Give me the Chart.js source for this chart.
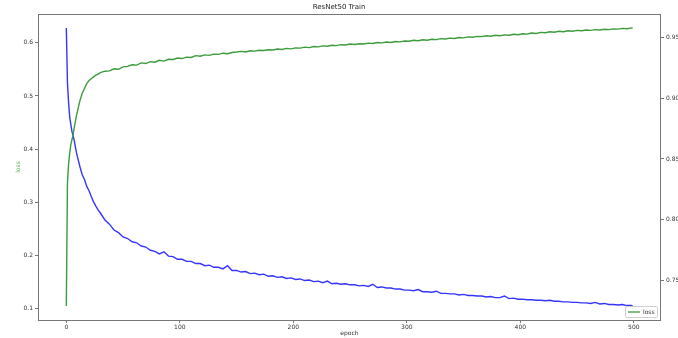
<!DOCTYPE html>
<html>
<head>
<meta charset="utf-8">
<script src="https://cdn.jsdelivr.net/npm/chart.js@4.4.0/dist/chart.umd.min.js"></script>
<style>
    html, body { margin: 0; padding: 0; background: #fff; }
    #wrap { width: 678px; height: 338px; }
</style>
</head>
<body>
<div id="wrap"><canvas id="trainChart" width="678" height="338"></canvas></div>
<script>
// Training curve (denser sampling where it moves fast)
const epochs = [0, 1, 2, 3, 4, 5, 6, 7, 8, 9, 10, 12, 14, 16, 18, 20, 22, 24, 26, 28,
    30, 34, 38, 42, 46, 50, 54, 58, 62, 66, 70, 74, 78, 82, 86, 90, 94, 98,
    102, 106, 110, 114, 118, 122, 126, 130, 134, 138, 142, 146, 150, 154, 158, 162, 166, 170, 174, 178, 182, 186, 190, 194, 198,
    202, 206, 210, 214, 218, 222, 226, 230, 234, 238, 242, 246, 250, 254, 258, 262, 266, 270, 274, 278, 282, 286, 290, 294, 298,
    302, 306, 310, 314, 318, 322, 326, 330, 334, 338, 342, 346, 350, 354, 358, 362, 366, 370, 374, 378, 382, 386, 390, 394, 398,
    402, 406, 410, 414, 418, 422, 426, 430, 434, 438, 442, 446, 450, 454, 458, 462, 466, 470, 474, 478, 482, 486, 490, 494, 498,
    499];

const lossValues = [0.628, 0.525, 0.488, 0.460, 0.446, 0.433, 0.425, 0.416, 0.404, 0.393, 0.384, 0.367, 0.352, 0.343, 0.330, 0.322, 0.311, 0.301, 0.293, 0.286,
    0.280, 0.267, 0.259, 0.248, 0.243, 0.235, 0.232, 0.226, 0.224, 0.218, 0.216, 0.210, 0.208, 0.203, 0.207, 0.199, 0.198, 0.193,
    0.193, 0.189, 0.189, 0.185, 0.185, 0.181, 0.182, 0.178, 0.178, 0.175, 0.181, 0.172, 0.172, 0.169, 0.170, 0.166, 0.167, 0.164, 0.165, 0.161, 0.162, 0.159, 0.160, 0.157, 0.158,
    0.155, 0.156, 0.153, 0.154, 0.151, 0.152, 0.149, 0.152, 0.147, 0.148, 0.146, 0.147, 0.145, 0.145, 0.143, 0.144, 0.142, 0.146, 0.140, 0.141, 0.139, 0.139, 0.137, 0.137, 0.135,
    0.135, 0.134, 0.136, 0.132, 0.132, 0.131, 0.133, 0.129, 0.129, 0.128, 0.128, 0.126, 0.127, 0.125, 0.125, 0.124, 0.124, 0.122, 0.123, 0.121, 0.121, 0.124, 0.119, 0.120, 0.118,
    0.118, 0.117, 0.117, 0.116, 0.116, 0.115, 0.116, 0.114, 0.114, 0.113, 0.113, 0.112, 0.112, 0.111, 0.111, 0.110, 0.112, 0.109, 0.110, 0.108, 0.108, 0.107, 0.108, 0.106, 0.106,
    0.105];

const accValues = [0.729, 0.830, 0.846, 0.855, 0.862, 0.866, 0.870, 0.876, 0.881, 0.886, 0.890, 0.898, 0.904, 0.908, 0.912, 0.9145, 0.9160, 0.9175, 0.9190, 0.9198,
    0.9210, 0.9222, 0.9225, 0.9242, 0.9238, 0.9258, 0.9262, 0.9275, 0.9272, 0.9290, 0.9285, 0.9300, 0.9296, 0.9312, 0.9305, 0.9320, 0.9318, 0.9330,
    0.9326, 0.9338, 0.9335, 0.9350, 0.9345, 0.9356, 0.9352, 0.9362, 0.9360, 0.9370, 0.9366, 0.9376, 0.9380, 0.9385, 0.9380, 0.9390, 0.9387, 0.9394, 0.9392, 0.9398, 0.9396, 0.9404, 0.9401, 0.9410, 0.9406,
    0.9414, 0.9412, 0.9420, 0.9416, 0.9425, 0.9422, 0.9430, 0.9427, 0.9435, 0.9432, 0.9440, 0.9437, 0.9445, 0.9442, 0.9448, 0.9446, 0.9453, 0.9450, 0.9458, 0.9455, 0.9462, 0.9458, 0.9466, 0.9463, 0.9470,
    0.9468, 0.9476, 0.9472, 0.9480, 0.9477, 0.9485, 0.9482, 0.9490, 0.9487, 0.9494, 0.9491, 0.9499, 0.9496, 0.9504, 0.9501, 0.9508, 0.9506, 0.9513, 0.9510, 0.9517, 0.9514, 0.9521, 0.9518, 0.9526, 0.9522,
    0.9530, 0.9527, 0.9536, 0.9532, 0.9541, 0.9538, 0.9546, 0.9542, 0.9550, 0.9547, 0.9554, 0.9551, 0.9558, 0.9555, 0.9561, 0.9558, 0.9564, 0.9561, 0.9567, 0.9564, 0.9570, 0.9568, 0.9574, 0.9571, 0.9578,
    0.9576];

const epochTicks = [0, 100, 200, 300, 400, 500];
const lossTicks = [0.1, 0.2, 0.3, 0.4, 0.5, 0.6];
const accTicks = [0.75, 0.80, 0.85, 0.90, 0.95];

const FONT = 'DejaVu Sans';
const AXIS_COLOR = '#777';
const TEXT_COLOR = '#333';
const BLUE = '#3535ff';
const GREEN = '#3c9c3c';

// matplotlib style 5% margins around the data
function paddedRange(values) {
    const lo = Math.min(...values), hi = Math.max(...values);
    const pad = (hi - lo) * 0.05;
    return { min: lo - pad, max: hi + pad };
}

const xRange = paddedRange(epochs);
const lossRange = paddedRange(lossValues);
const accRange = paddedRange(accValues);

function fixedTicks(list) {
    return function(axis) {
        axis.ticks = list.map(v => ({ value: v }));
    };
}

// box around the plot area
const frame = {
    id: 'frame',
    afterDraw(chart) {
        const { ctx, chartArea } = chart;
        ctx.save();
        ctx.strokeStyle = AXIS_COLOR;
        ctx.lineWidth = 1;
        ctx.strokeRect(chartArea.left + 0.5, chartArea.top + 0.5,
            chartArea.right - chartArea.left - 1, chartArea.bottom - chartArea.top);
        ctx.restore();
    }
};

// legend in the lower right corner
const legendBox = {
    id: 'legendBox',
    afterDraw(chart) {
        const { ctx, chartArea } = chart;
        const w = 32, h = 11;
        const x = chartArea.right - w - 4;
        const y = chartArea.bottom - h - 3;
        ctx.save();
        ctx.fillStyle = 'rgba(255,255,255,0.8)';
        ctx.strokeStyle = '#d0d0d0';
        ctx.lineWidth = 1;
        ctx.beginPath();
        ctx.roundRect(x + 0.5, y + 0.5, w, h, 1.5);
        ctx.fill();
        ctx.stroke();
        ctx.strokeStyle = GREEN;
        ctx.lineWidth = 1.3;
        ctx.beginPath();
        ctx.moveTo(x + 3, y + 6);
        ctx.lineTo(x + 15, y + 6);
        ctx.stroke();
        ctx.fillStyle = TEXT_COLOR;
        ctx.font = '6px "' + FONT + '"';
        ctx.textBaseline = 'middle';
        ctx.fillText('loss', x + 18, y + 6);
        ctx.restore();
    }
};

const ctx = document.getElementById('trainChart').getContext('2d');
new Chart(ctx, {
    type: 'line',
    data: {
        datasets: [{
            label: 'loss',
            data: epochs.map((e, i) => ({ x: e, y: lossValues[i] })),
            yAxisID: 'y',
            borderColor: BLUE,
            borderWidth: 1.4,
            pointRadius: 0,
            tension: 0,
            order: 1
        },
        {
            label: 'acc',
            data: epochs.map((e, i) => ({ x: e, y: accValues[i] })),
            yAxisID: 'y1',
            borderColor: GREEN,
            borderWidth: 1.4,
            pointRadius: 0,
            tension: 0,
            order: 0
        }]
    },
    options: {
        responsive: false,
        animation: false,
        devicePixelRatio: 1,
        layout: { padding: 0 },
        plugins: {
            legend: { display: false },
            tooltip: { enabled: false },
            title: {
                display: true,
                text: 'ResNet50 Train',
                color: '#222',
                font: { family: FONT, size: 7, weight: 'normal' },
                padding: { top: 3, bottom: 2.6 }
            }
        },
        scales: {
            x: {
                type: 'linear',
                min: xRange.min,
                max: xRange.max,
                afterBuildTicks: fixedTicks(epochTicks),
                afterFit: function(axis) { axis.height = 18; },
                grid: { drawOnChartArea: false, tickLength: 3, tickColor: AXIS_COLOR },
                border: { display: false },
                ticks: {
                    color: TEXT_COLOR,
                    font: { family: FONT, size: 6 },
                    padding: 1,
                    maxRotation: 0,
                    callback: v => String(v)
                },
                title: {
                    display: true,
                    text: 'epoch',
                    color: TEXT_COLOR,
                    font: { family: FONT, size: 6 },
                    padding: { top: 0, bottom: 0.5 }
                }
            },
            y: {
                position: 'left',
                min: lossRange.min,
                max: lossRange.max,
                afterBuildTicks: fixedTicks(lossTicks),
                afterFit: function(axis) { axis.width = 38; },
                grid: { drawOnChartArea: false, tickLength: 3, tickColor: AXIS_COLOR },
                border: { display: false },
                ticks: {
                    color: TEXT_COLOR,
                    font: { family: FONT, size: 6 },
                    padding: 2,
                    callback: v => v.toFixed(1)
                },
                title: {
                    display: true,
                    text: 'loss',
                    color: '#5cb85c',
                    font: { family: FONT, size: 6 },
                    padding: { top: 14.4, bottom: 0 }
                }
            },
            y1: {
                position: 'right',
                min: accRange.min,
                max: accRange.max,
                afterBuildTicks: fixedTicks(accTicks),
                afterFit: function(axis) { axis.width = 17; },
                grid: { drawOnChartArea: false, tickLength: 3, tickColor: AXIS_COLOR },
                border: { display: false },
                ticks: {
                    color: TEXT_COLOR,
                    font: { family: FONT, size: 6 },
                    padding: 2,
                    callback: v => v.toFixed(2)
                }
            }
        }
    },
    plugins: [frame, legendBox]
});
</script>
</body>
</html>
